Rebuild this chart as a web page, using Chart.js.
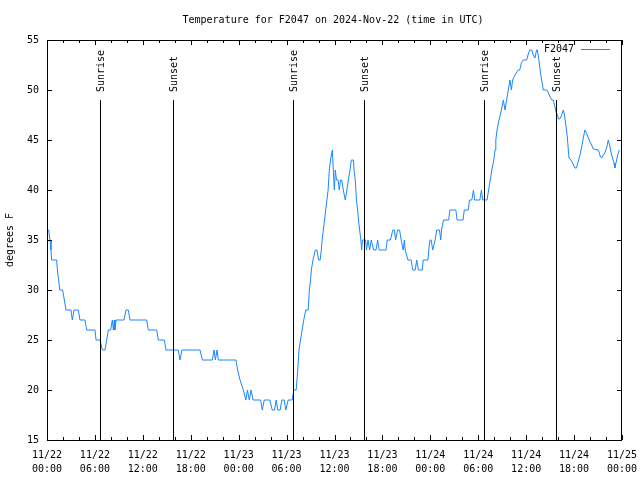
<!DOCTYPE html>
<html>
<head>
<meta charset="utf-8">
<title>Temperature for F2047</title>
<script src="https://cdn.jsdelivr.net/npm/chart.js@4/dist/chart.umd.min.js"></script>
<style>
    html, body { margin: 0; padding: 0; background: #fff; }
    canvas { display: block; }
</style>
</head>
<body>
<canvas id="chart" width="640" height="480"></canvas>
<script>
// hours since 11/22 00:00 UTC
const hours = [
    0.05, 0.2, 0.38, 0.5, 0.58, 1.21, 1.3, 1.45, 1.6, 1.96, 2.17, 2.38, 3.0, 3.17, 3.38, 3.92,
    4.13, 4.76, 4.97, 6.01, 6.14, 6.64, 6.93, 7.26, 7.47, 7.68, 7.97, 8.18, 8.31, 8.43, 8.51, 8.64,
    9.64, 9.89, 10.18, 10.39, 12.48, 12.69, 13.73, 13.94, 14.69, 14.9, 16.44, 16.65, 16.9, 19.16,
    19.45, 20.7, 20.91, 21.08, 21.29, 21.45, 23.66, 23.87, 24.17, 24.58, 24.9, 25.1, 25.33, 25.55,
    25.8, 26.75, 26.96, 27.2, 27.9, 28.2, 28.5, 28.7, 28.9, 29.2, 29.4, 29.7, 29.9, 30.2, 30.7,
    30.9, 31.2, 31.4, 31.55, 31.75, 31.95, 32.15, 32.4, 32.7, 32.85, 33.0, 33.1, 33.3, 33.6, 33.8,
    34.0, 34.2, 34.35, 34.45, 34.6, 34.75, 34.9, 35.05, 35.2, 35.35, 35.5, 35.73, 35.85, 35.98,
    36.1, 36.25, 36.45, 36.6, 36.75, 36.9, 37.1, 37.35, 37.55, 37.73, 37.94, 38.1, 38.36, 38.45,
    38.6, 38.75, 38.9, 39.0, 39.15, 39.3, 39.4, 39.5, 39.9, 40.0, 40.2, 40.4, 40.6, 40.9, 41.2,
    41.4, 41.6, 42.45, 42.6, 43.0, 43.3, 43.5, 43.65, 43.9, 44.15, 44.35, 44.6, 44.75, 44.85, 45.2,
    45.6, 45.8, 46.1, 46.3, 46.5, 47.0, 47.1, 47.7, 47.8, 47.95, 48.1, 48.3, 48.6, 48.8, 49.15,
    49.3, 49.4, 49.65, 50.3, 50.45, 51.2, 51.35, 52.1, 52.25, 52.75, 52.9, 53.2, 53.4, 53.55, 54.2,
    54.4, 54.55, 55.1, 55.3, 55.5, 55.7, 55.95, 56.1, 56.2, 56.35, 56.6, 56.9, 57.14, 57.35, 57.55,
    57.76, 57.97, 58.15, 58.3, 58.6, 59.0, 59.2, 59.4, 59.64, 60.06, 60.3, 60.47, 60.7, 60.9, 61.1,
    61.3, 61.4, 61.5, 61.64, 61.8, 61.98, 62.15, 62.57, 62.8, 63.0, 63.2, 63.4, 63.6, 63.75, 63.9,
    64.05, 64.2, 64.4, 64.65, 64.8, 65.0, 65.15, 65.36, 65.6, 65.82, 66.1, 66.3, 66.5, 66.74, 66.95,
    67.15, 67.36, 67.55, 67.75, 68.0, 68.2, 68.4, 69.05, 69.3, 69.45, 69.66, 69.85, 70.1, 70.28,
    70.45, 70.7, 71.0, 71.1, 71.33, 71.45, 71.66,
];
const temps = [
    36, 36, 35, 34, 33, 33, 32, 31, 30, 30, 29, 28, 28, 27, 28, 28,
    27, 27, 26, 26, 25, 25, 24, 24, 25, 26, 26, 27, 26, 27, 26, 27,
    27, 28, 28, 27, 27, 26, 26, 25, 25, 24, 24, 23, 24, 24,
    23, 23, 24, 23, 24, 23, 23, 22, 21, 20, 19, 20, 19, 20,
    19, 19, 18, 19, 19, 18, 18, 19, 18, 18, 19, 19, 18, 19, 19,
    20, 20, 22, 24, 25, 26, 27, 28, 28, 30, 31, 32, 33, 34, 34,
    33, 33, 34, 35, 36, 37, 38, 39, 40, 42, 43, 44, 42, 40,
    42, 41, 41, 40, 41, 41, 40, 39, 40, 41, 42, 43, 43, 42,
    41, 39, 38, 37, 36, 35, 34, 35, 35, 34, 35, 34, 35, 34, 34,
    35, 34, 34, 35, 35, 36, 36, 35, 36, 36, 35, 34, 35, 34, 33,
    33, 32, 32, 33, 32, 32, 33, 33, 34, 35, 35, 34, 35, 36, 36,
    35, 36, 37, 37, 38, 38, 37, 37, 38, 38, 39, 39, 40, 39, 39,
    40, 39, 39, 40, 41, 42, 43, 44, 45, 46, 47, 48, 49, 48, 49,
    50, 51, 50, 51, 51.5, 52, 52, 52.7, 53, 53, 53.7, 54, 54, 53.5, 53.2,
    54, 54, 53.5, 52.7, 51.7, 50.8, 50, 50, 49.7, 49.3, 49, 49, 48.3, 47.8, 47.5,
    47.1, 47.1, 47.4, 48, 47.5, 46.3, 45.3, 43.2, 43, 42.7, 42.2, 42.2, 42.8, 43.5, 44.3,
    45.2, 46, 45.7, 45.3, 44.8, 44.5, 44.1, 44, 43.3, 43.2, 43.5, 43.7, 44.3, 45,
    44.5, 43.5, 42.7, 42.2, 43, 43.5, 44,
];

const sunHours = [6.67, 15.82, 30.77, 39.73, 54.76, 63.78];
const sunLabels = ['Sunrise', 'Sunset', 'Sunrise', 'Sunset', 'Sunrise', 'Sunset'];

const tickDays = ['11/22', '11/22', '11/22', '11/22', '11/23', '11/23', '11/23',
    '11/23', '11/24', '11/24', '11/24', '11/24', '11/25'];
const tickTimes = ['00:00', '06:00', '12:00', '18:00', '00:00', '06:00', '12:00',
    '18:00', '00:00', '06:00', '12:00', '18:00', '00:00'];

const FONT = '10px "DejaVu Sans Mono", monospace';
const LINE_COLOR = '#1a86ff';

// frame, inner ticks, sun lines, titles and key drawn like gnuplot does
const decorations = {
    id: 'decorations',
    afterDraw(chart) {
        const { ctx, chartArea: area } = chart;
        const xs = chart.scales.x;
        const ys = chart.scales.y;

        ctx.save();
        ctx.strokeStyle = '#000';
        ctx.lineWidth = 1;
        ctx.strokeRect(area.left + 0.5, area.top + 0.5, area.right - area.left - 1, area.bottom - area.top);

        ctx.beginPath();
        xs.ticks.forEach((t) => {
            const x = Math.round(xs.getPixelForValue(t.value)) + 0.5;
            const len = t.value % 6 === 0 ? 5 : 3;
            ctx.moveTo(x, area.bottom);
            ctx.lineTo(x, area.bottom - len);
            ctx.moveTo(x, area.top);
            ctx.lineTo(x, area.top + len);
        });
        ys.ticks.forEach((t) => {
            const y = Math.round(ys.getPixelForValue(t.value)) + 0.5;
            ctx.moveTo(area.left, y);
            ctx.lineTo(area.left + 5, y);
            ctx.moveTo(area.right, y);
            ctx.lineTo(area.right - 5, y);
        });
        ctx.stroke();

        ctx.font = FONT;
        ctx.fillStyle = '#000';

        // sunrise / sunset markers
        sunHours.forEach((h, i) => {
            const x = Math.round(xs.getPixelForValue(h)) + 0.5;
            ctx.beginPath();
            ctx.moveTo(x, 100);
            ctx.lineTo(x, area.bottom);
            ctx.stroke();

            ctx.save();
            ctx.translate(x + 1, 92);
            ctx.rotate(-Math.PI / 2);
            ctx.textAlign = 'left';
            ctx.textBaseline = 'middle';
            ctx.fillText(sunLabels[i], 0, 0);
            ctx.restore();
        });

        // title
        ctx.textAlign = 'center';
        ctx.textBaseline = 'middle';
        ctx.fillText('Temperature for F2047 on 2024-Nov-22 (time in UTC)', 333, 20);

        // y axis title
        ctx.save();
        ctx.translate(10, 240);
        ctx.rotate(-Math.PI / 2);
        ctx.fillText('degrees F', 0, 0);
        ctx.restore();

        // key
        ctx.textAlign = 'right';
        ctx.fillText(chart.data.datasets[0].label, 574, 49);
        ctx.strokeStyle = LINE_COLOR;
        ctx.beginPath();
        ctx.moveTo(581, 49.5);
        ctx.lineTo(610, 49.5);
        ctx.stroke();

        ctx.restore();
    },
};

const ctx = document.getElementById('chart').getContext('2d');
new Chart(ctx, {
    type: 'line',
    data: {
        datasets: [
            {
                label: 'F2047',
                data: hours.map((h, i) => ({ x: h, y: temps[i] })),
                borderColor: LINE_COLOR,
                borderWidth: 1,
                pointRadius: 0,
                tension: 0,
                fill: false,
            },
        ],
    },
    options: {
        responsive: false,
        animation: false,
        devicePixelRatio: 1,
        layout: {
            padding: { left: 0, top: 40, right: 18, bottom: 0 },
        },
        plugins: {
            legend: { display: false },
            tooltip: { enabled: false },
        },
        scales: {
            x: {
                type: 'linear',
                min: 0,
                max: 72,
                grid: { display: false, drawTicks: false },
                border: { display: false },
                afterFit(scale) {
                    scale.height = 40;
                    scale.paddingLeft = 0;
                    scale.paddingRight = 0;
                },
                ticks: {
                    stepSize: 2,
                    autoSkip: false,
                    maxRotation: 0,
                    padding: 9,
                    color: '#000',
                    font: { family: '"DejaVu Sans Mono", monospace', size: 10, lineHeight: 1.35 },
                    callback(value) {
                        if (value % 6 !== 0) {
                            return '';
                        }
                        const i = value / 6;
                        return [tickDays[i], tickTimes[i]];
                    },
                },
            },
            y: {
                min: 15,
                max: 55,
                grid: { display: false, drawTicks: false },
                border: { display: false },
                afterFit(scale) {
                    scale.width = 47;
                    scale.paddingTop = 0;
                    scale.paddingBottom = 0;
                },
                ticks: {
                    stepSize: 5,
                    padding: 8,
                    color: '#000',
                    font: { family: '"DejaVu Sans Mono", monospace', size: 10 },
                },
            },
        },
    },
    plugins: [decorations],
});
</script>
</body>
</html>
